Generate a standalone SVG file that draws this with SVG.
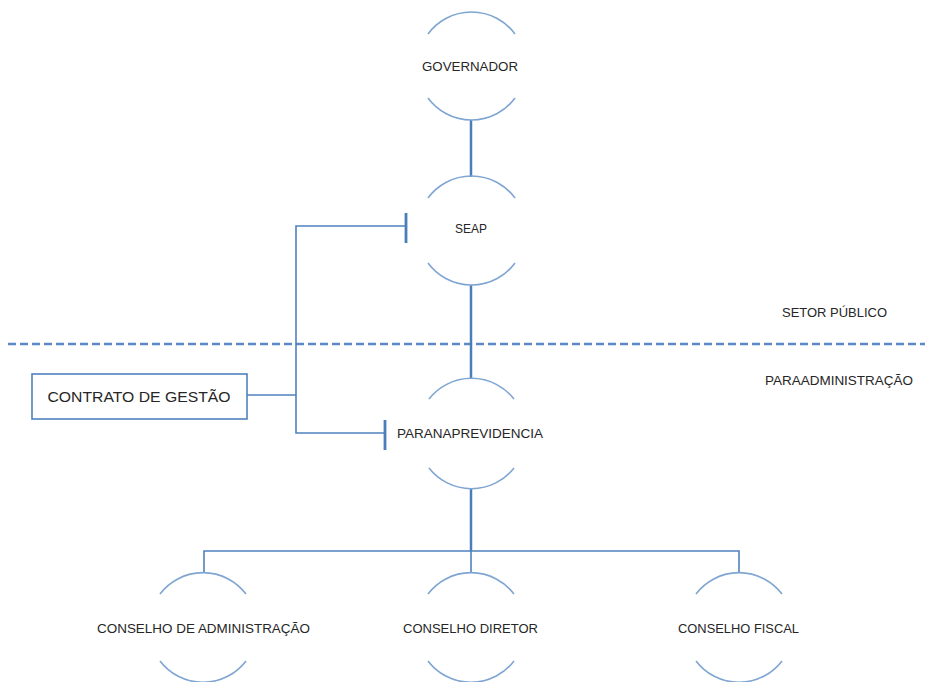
<svg xmlns="http://www.w3.org/2000/svg" width="925" height="682" viewBox="0 0 925 682">
<style>
.arc{fill:none;stroke:#7fa5d2;stroke-width:1.6}
.ln{fill:none;stroke:#4f81bd;stroke-width:1.6}
.thick{fill:none;stroke:#4a7ebb;stroke-width:2.5}
.tick{fill:none;stroke:#4a7ebb;stroke-width:2.8}
.dash{fill:none;stroke:#5b89c6;stroke-width:2.5;stroke-dasharray:8 4}
text{font-family:"Liberation Sans",Arial,sans-serif;font-size:13.5px;fill:#262626;text-anchor:middle}
.big{font-size:15.5px}
</style>
<rect width="925" height="682" fill="#ffffff"/>
<g id="connectors">
<line class="dash" x1="8" y1="344" x2="925" y2="344"/>
<line class="thick" x1="471" y1="120" x2="471" y2="177"/>
<line class="thick" x1="471" y1="285" x2="471" y2="379"/>
<line class="thick" x1="471" y1="488" x2="471" y2="551"/>
<path class="ln" d="M204 573 V551 H739 V573"/>
<line class="ln" x1="471" y1="551" x2="471" y2="573"/>
<path class="ln" d="M406 226 H296 V433 H385"/>
<line class="ln" x1="247" y1="395" x2="296" y2="395"/>
<line class="tick" x1="406" y1="213" x2="406" y2="243"/>
<line class="tick" x1="385" y1="420" x2="385" y2="450"/>
</g>
<g id="governador">
<path class="arc" d="M428 34 A54 54 0 0 1 515 34"/>
<path class="arc" d="M428 98 A54 54 0 0 0 515 98"/>
<text x="470" y="71" textLength="96" lengthAdjust="spacingAndGlyphs">GOVERNADOR</text>
</g>
<g id="seap">
<path class="arc" d="M428 198 A54 54 0 0 1 515 198"/>
<path class="arc" d="M428 263 A54 54 0 0 0 515 263"/>
<text x="471" y="233" textLength="32" lengthAdjust="spacingAndGlyphs">SEAP</text>
</g>
<g id="paranaprevidencia">
<path class="arc" d="M429 399 A54 54 0 0 1 514 399"/>
<path class="arc" d="M429 468 A54 54 0 0 0 514 468"/>
<text x="470" y="438" textLength="146" lengthAdjust="spacingAndGlyphs">PARANAPREVIDENCIA</text>
</g>
<g id="contrato">
<rect x="32" y="374" width="215" height="45" fill="#ffffff" stroke="#4f81bd" stroke-width="1.6"/>
<text class="big" x="139" y="402" textLength="183" lengthAdjust="spacingAndGlyphs">CONTRATO DE GESTÃO</text>
</g>
<g id="conselho-admin">
<path class="arc" d="M160 594 A54 54 0 0 1 246 594"/>
<path class="arc" d="M160 661 A54 54 0 0 0 246 661"/>
<text x="203.5" y="633" textLength="213" lengthAdjust="spacingAndGlyphs">CONSELHO DE ADMINISTRAÇÃO</text>
</g>
<g id="conselho-diretor">
<path class="arc" d="M428 594 A54 54 0 0 1 514 594"/>
<path class="arc" d="M428 661 A54 54 0 0 0 514 661"/>
<text x="470.5" y="633" textLength="135" lengthAdjust="spacingAndGlyphs">CONSELHO DIRETOR</text>
</g>
<g id="conselho-fiscal">
<path class="arc" d="M696 594 A54 54 0 0 1 782 594"/>
<path class="arc" d="M696 661 A54 54 0 0 0 782 661"/>
<text x="738.5" y="633" textLength="121" lengthAdjust="spacingAndGlyphs">CONSELHO FISCAL</text>
</g>
<g id="labels">
<text x="834.5" y="317" textLength="105" lengthAdjust="spacingAndGlyphs">SETOR PÚBLICO</text>
<text x="839" y="385" textLength="148" lengthAdjust="spacingAndGlyphs">PARAADMINISTRAÇÃO</text>
</g>
</svg>
